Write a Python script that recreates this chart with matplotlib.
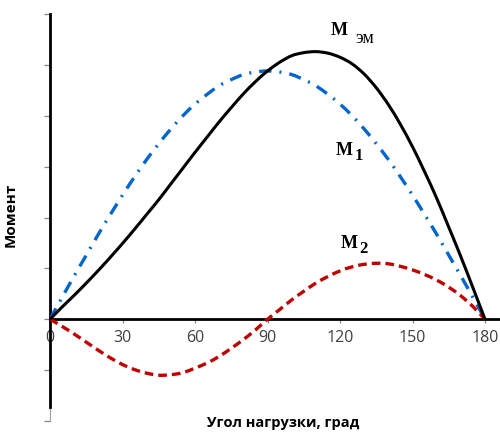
import numpy as np
import matplotlib
matplotlib.use('Agg')
import matplotlib.pyplot as plt
from matplotlib.path import Path
from matplotlib.patches import PathPatch

# load angle, degrees
angle = list(range(0, 181, 5))

# M_EM (solid black)
m_em = [0, 0.24, 0.47, 0.71, 0.96, 1.22, 1.49, 1.77, 2.06, 2.35, 2.66, 2.97,
        3.28, 3.58, 3.88, 4.16, 4.43, 4.67, 4.88, 5.05, 5.18, 5.24, 5.26,
        5.23, 5.15, 5.02, 4.82, 4.55, 4.22, 3.83, 3.39, 2.90, 2.38, 1.81,
        1.23, 0.62, 0]

# M1 (blue dash-dot)
m1 = [0, 0.43, 0.85, 1.26, 1.67, 2.06, 2.44, 2.80, 3.14, 3.45, 3.74, 4.00,
      4.23, 4.42, 4.59, 4.71, 4.81, 4.86, 4.88, 4.86, 4.81, 4.71, 4.59,
      4.42, 4.23, 4.00, 3.74, 3.45, 3.14, 2.80, 2.44, 2.06, 1.67, 1.26,
      0.85, 0.43, 0]

# M2 (red dashed)
m2 = [0, -0.14, -0.29, -0.45, -0.61, -0.76, -0.89, -0.99, -1.06, -1.10,
      -1.09, -1.05, -0.96, -0.86, -0.73, -0.57, -0.40, -0.21, 0, 0.19,
      0.38, 0.55, 0.71, 0.84, 0.95, 1.03, 1.08, 1.10, 1.09, 1.04, 0.97,
      0.88, 0.77, 0.63, 0.46, 0.25, 0]

xticks = [0, 30, 60, 90, 120, 150, 180]
yticks = list(range(-2, 7))


def smooth_line(ax, x, y, **kw):
    # smoothed line like Excel: Catmull-Rom segments drawn as cubic Beziers
    p = np.column_stack([x, y]).astype(float)
    ext = np.vstack([p[0], p, p[-1]])
    verts = [p[0]]
    codes = [Path.MOVETO]
    for i in range(len(p) - 1):
        a, b, c, d = ext[i], ext[i + 1], ext[i + 2], ext[i + 3]
        verts += [b + (c - a) / 6, c - (d - b) / 6, c]
        codes += [Path.CURVE4] * 3
    ax.add_patch(PathPatch(Path(verts, codes), fill=False, **kw))


W, H = 500, 432
fig = plt.figure(figsize=(5, 4.32), dpi=100)
ax = fig.add_axes([50 / W, 1 - 421 / H, 450 / W, 407 / H])

smooth_line(ax, angle, m_em, edgecolor='black', lw=2.2, zorder=4)
smooth_line(ax, angle, m1, edgecolor='#0066CC', lw=2.4,
            linestyle=(0, (3.7, 2.4, 0.6, 2.4)), zorder=3)
smooth_line(ax, angle, m2, edgecolor='#C00000', lw=2.4,
            linestyle=(0, (2.6, 1.5)), zorder=3)

ax.set_xlim(0, 450 / 435 * 180)
ax.set_ylim(-2, 6)

# axes look
for s in ['top', 'right']:
    ax.spines[s].set_visible(False)
ax.spines['bottom'].set_position(('data', 0))
ax.spines['bottom'].set_linewidth(2)
ax.spines['left'].set_linewidth(2)
ax.spines['left'].set_bounds(-1.73, 6)
ax.plot([0, 0], [-2, -1.73], color='#A0A0A0', lw=0.8, clip_on=False)

ax.set_xticks(xticks)
ax.set_yticks(yticks)
ax.set_yticklabels([])
ax.tick_params(axis='y', direction='out', length=4, width=0.9, color='#868686')
ax.tick_params(axis='x', direction='out', length=3, width=0.9, color='#868686',
               labelcolor='#404040', labelsize=11.5, pad=5)
for lab in ax.get_xticklabels():
    lab.set_fontfamily('Open Sans')

ax.set_ylabel('Момент', fontfamily='Open Sans', fontweight='bold', fontsize=11)
ax.yaxis.set_label_coords(-0.072, 0.506)
fig.text(283.5 / W, 1 - 423 / H, 'Угол нагрузки, град', fontfamily='Open Sans',
         fontweight='bold', fontsize=10.5, ha='center', va='center')

# curve labels
def put(px, py, s, **kw):
    fig.text(px / W, 1 - py / H, s, fontfamily='Liberation Serif',
             va='baseline', ha='left', **kw)

put(331, 35, 'M', fontsize=13, fontweight='bold')
put(355, 43.3, 'эм', fontsize=13)
put(336, 155, 'M', fontsize=13, fontweight='bold')
put(355, 160, '1', fontsize=12, fontweight='bold')
put(341, 247.7, 'M', fontsize=13, fontweight='bold')
put(359, 253, '2', fontsize=12, fontweight='bold')

fig.savefig('out.png', dpi=100)
